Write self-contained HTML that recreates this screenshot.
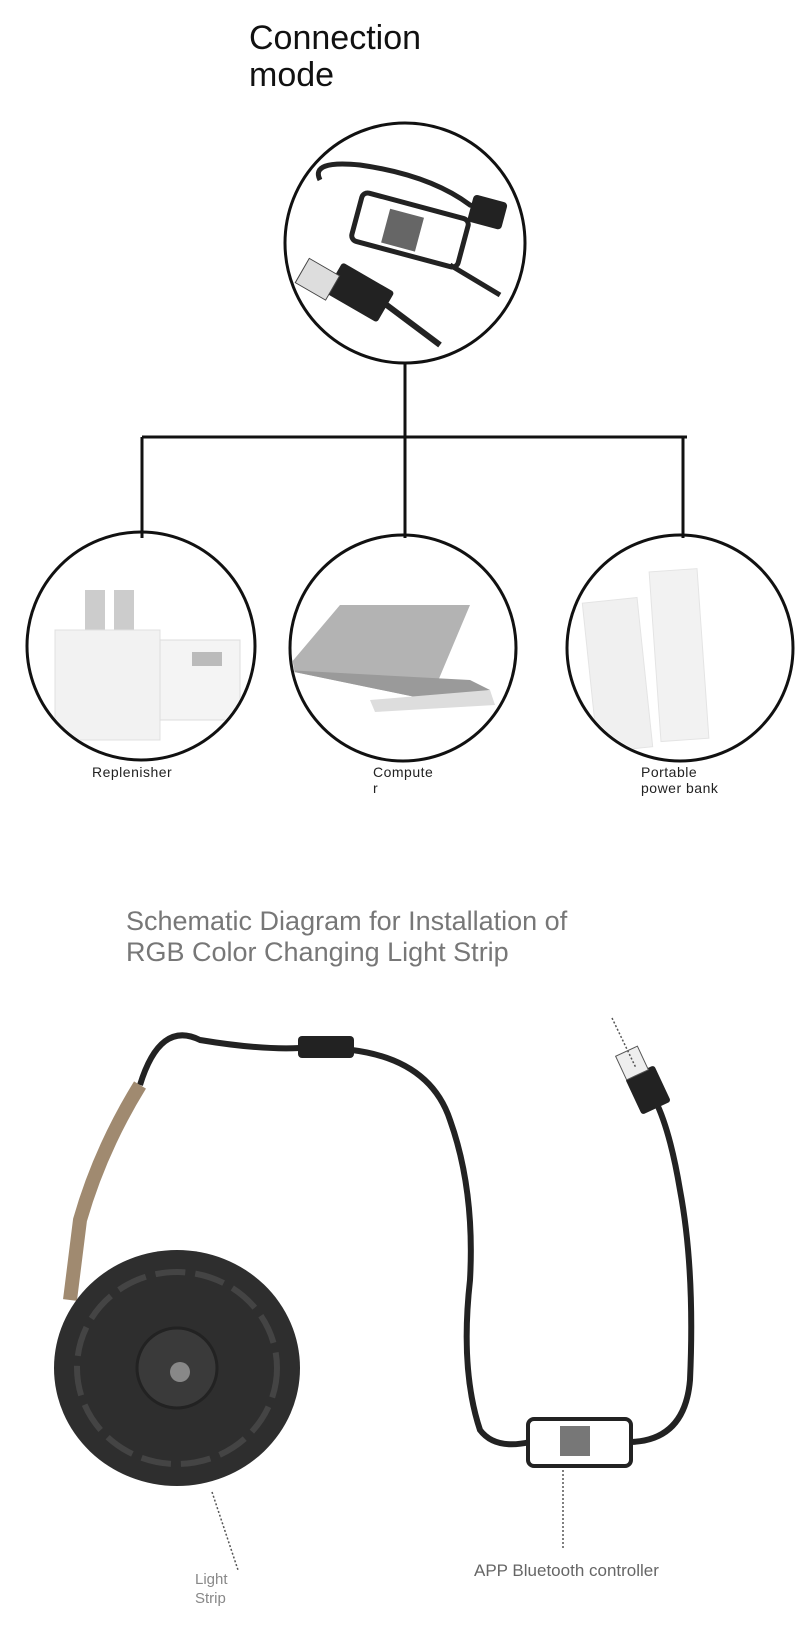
<!DOCTYPE html>
<html><head><meta charset="utf-8"><style>
html,body{margin:0;padding:0;background:#fff;}
body{width:800px;height:1639px;position:relative;overflow:hidden;font-family:"Liberation Sans",sans-serif;}
.t{position:absolute;white-space:nowrap;}
</style></head><body>
<div class="t" style="left:249px;top:20px;font-size:34px;line-height:37px;color:#111;">Connection<br>mode</div>
<div class="t" style="left:92px;top:764px;font-size:14px;color:#222;letter-spacing:0.5px">Replenisher</div>
<div class="t" style="left:373px;top:764px;font-size:14px;line-height:16px;color:#222;letter-spacing:0.5px">Compute<br>r</div>
<div class="t" style="left:641px;top:764px;font-size:14px;line-height:16px;color:#222;letter-spacing:0.5px">Portable<br>power bank</div>
<div class="t" style="left:126px;top:906px;font-size:27px;line-height:31px;color:#777;">Schematic Diagram for Installation of<br>RGB Color Changing Light Strip</div>
<div class="t" style="left:474px;top:1561px;font-size:17px;color:#666;">APP Bluetooth controller</div>
<div class="t" style="left:195px;top:1570px;font-size:15px;line-height:19px;color:#888;">Light<br>Strip</div>
<svg width="800" height="1639" style="position:absolute;left:0;top:0">
<defs>
<clipPath id="c0"><circle cx="405" cy="243" r="118"/></clipPath>
<clipPath id="c1"><circle cx="141" cy="646" r="112"/></clipPath>
<clipPath id="c2"><circle cx="403" cy="648" r="111"/></clipPath>
<clipPath id="c3"><circle cx="680" cy="648" r="111"/></clipPath>
</defs>
<g clip-path="url(#c0)">
<path d="M320 180 Q310 160 360 165 Q430 175 470 205 L500 212" stroke="#222" stroke-width="5" fill="none"/>
<rect x="470" y="198" width="35" height="28" rx="4" fill="#222" transform="rotate(15 487 212)"/>
<rect x="355" y="205" width="110" height="50" rx="6" fill="#fff" stroke="#222" stroke-width="5" transform="rotate(15 410 230)"/>
<rect x="385" y="212" width="35" height="35" fill="#666" transform="rotate(15 400 230)"/>
<path d="M380 300 L440 345" stroke="#222" stroke-width="6"/>
<path d="M450 265 L500 295" stroke="#222" stroke-width="5"/>
<rect x="330" y="275" width="60" height="35" rx="3" fill="#222" transform="rotate(30 360 292)"/>
<rect x="300" y="265" width="35" height="28" fill="#ddd" stroke="#444" transform="rotate(30 317 279)"/>
</g>
<g clip-path="url(#c1)">
<rect x="85" y="590" width="20" height="40" fill="#ccc"/><rect x="114" y="590" width="20" height="40" fill="#ccc"/>
<rect x="55" y="630" width="105" height="110" fill="#f2f2f2" stroke="#e0e0e0"/>
<rect x="160" y="640" width="80" height="80" fill="#f4f4f4" stroke="#ddd"/>
<rect x="192" y="652" width="30" height="14" fill="#bbb"/>
</g>
<g clip-path="url(#c2)">
<path d="M340 605 L470 605 L430 700 L285 670 Z" fill="#b3b3b3"/>
<path d="M285 670 L430 700 L490 690 L470 680 Z" fill="#9a9a9a"/>
<path d="M370 700 L490 690 L495 705 L375 712 Z" fill="#ddd"/>
</g>
<g clip-path="url(#c3)">
<rect x="590" y="600" width="55" height="150" fill="#f0f0f0" stroke="#e4e4e4" transform="rotate(-6 617 675)"/>
<rect x="655" y="570" width="48" height="170" fill="#f2f2f2" stroke="#e4e4e4" transform="rotate(-4 680 655)"/>
</g>
<g fill="none" stroke="#111" stroke-width="3">
<circle cx="405" cy="243" r="120"/>
<path d="M405 363V437M142 437H687M142 437V538M405 437V538M683 437V538"/>
<circle cx="141" cy="646" r="114"/>
<circle cx="403" cy="648" r="113"/>
<circle cx="680" cy="648" r="113"/>
</g>
<path d="M140 1085 Q160 1020 200 1040 Q260 1050 300 1048" stroke="#222" stroke-width="6" fill="none"/>
<path d="M140 1085 Q100 1150 80 1220 L70 1300" stroke="#a08a70" stroke-width="14" fill="none"/>
<rect x="298" y="1036" width="56" height="22" rx="4" fill="#222"/>
<path d="M352 1050 Q430 1060 450 1120 Q475 1190 470 1280 Q460 1370 480 1430 Q495 1450 530 1442" stroke="#222" stroke-width="6" fill="none"/>
<path d="M631 1442 Q685 1440 690 1380 Q695 1270 680 1190 Q670 1130 655 1100" stroke="#222" stroke-width="6" fill="none"/>
<rect x="632" y="1070" width="32" height="40" rx="3" fill="#222" transform="rotate(-25 648 1090)"/>
<rect x="620" y="1050" width="24" height="26" fill="#eee" stroke="#555" transform="rotate(-25 632 1063)"/>
<rect x="528" y="1419" width="103" height="47" rx="6" fill="#fff" stroke="#222" stroke-width="4"/>
<rect x="560" y="1426" width="30" height="30" fill="#777"/>
<ellipse cx="177" cy="1368" rx="123" ry="118" fill="#2e2e2e"/>
<ellipse cx="177" cy="1368" rx="100" ry="96" fill="none" stroke="#444" stroke-width="6" stroke-dasharray="30 10"/>
<circle cx="177" cy="1368" r="40" fill="#3a3a3a" stroke="#222" stroke-width="3"/>
<circle cx="180" cy="1372" r="10" fill="#888"/>
<g stroke="#555" stroke-width="1.5" stroke-dasharray="2 2" fill="none">
<path d="M612 1018 L636 1068M563 1470 L563 1550M212 1492 L238 1570"/>
</g>
</svg>
</body></html>
